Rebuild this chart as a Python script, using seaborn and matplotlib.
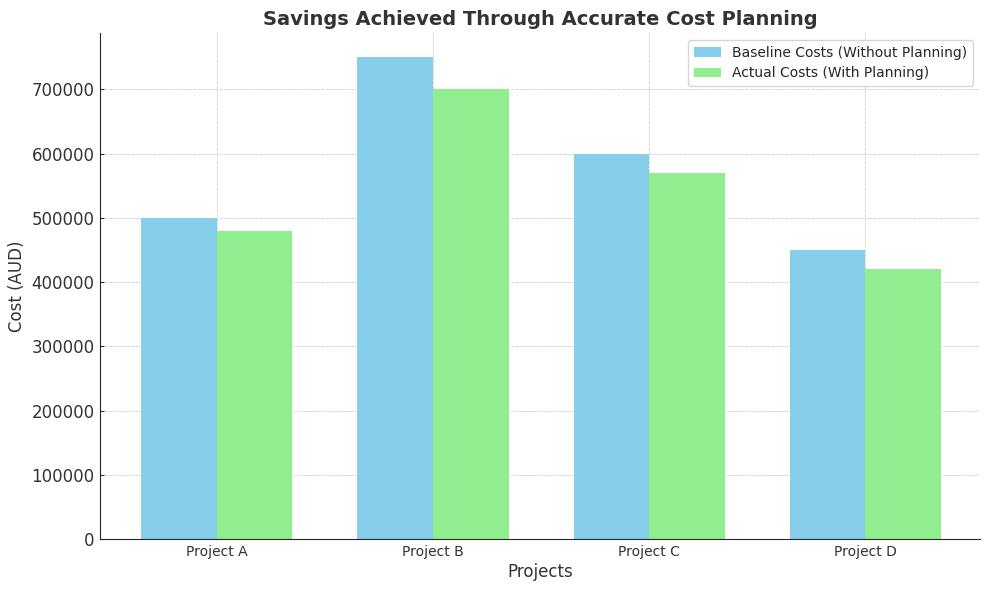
import pandas as pd
import matplotlib.pyplot as plt
import seaborn as sns

projects = ['Project A', 'Project B', 'Project C', 'Project D']
baseline_costs = [500000, 750000, 600000, 450000]
actual_costs = [480000, 700000, 570000, 420000]
series_names = ['Baseline Costs (Without Planning)', 'Actual Costs (With Planning)']

df = pd.DataFrame({
    'Project': projects * 2,
    'Cost': baseline_costs + actual_costs,
    'Type': [series_names[0]] * len(projects) + [series_names[1]] * len(projects),
})

sns.set_style('ticks')
plt.rcParams['font.family'] = ['DejaVu Sans']

fig, ax = plt.subplots(figsize=(9.9, 5.9), dpi=100)
sns.barplot(data=df, x='Project', y='Cost', hue='Type', width=0.7,
            palette=['skyblue', 'lightgreen'], saturation=1, errorbar=None,
            linewidth=0, ax=ax)

ax.set_title('Savings Achieved Through Accurate Cost Planning', fontsize=14,
             fontweight='bold', color='#333333', pad=6)
ax.set_xlabel('Projects', fontsize=12, color='#333333', labelpad=3)
ax.set_ylabel('Cost (AUD)', fontsize=12, color='#333333')
ax.tick_params(axis='both', direction='in', length=3, pad=4)
ax.tick_params(axis='y', labelsize=12, colors='#333333')
ax.tick_params(axis='x', labelsize=10, colors='#333333')
ax.grid(True, linestyle='--', linewidth=0.6, color='#d0d0d0')
ax.set_axisbelow(True)
ax.set_xlim(-0.54, 3.53)
sns.despine(ax=ax)
ax.legend(title=None, loc='upper right', fontsize=10)

fig.subplots_adjust(left=0.101, right=0.99, bottom=0.086, top=0.944)
plt.savefig('out.png', dpi=100)
